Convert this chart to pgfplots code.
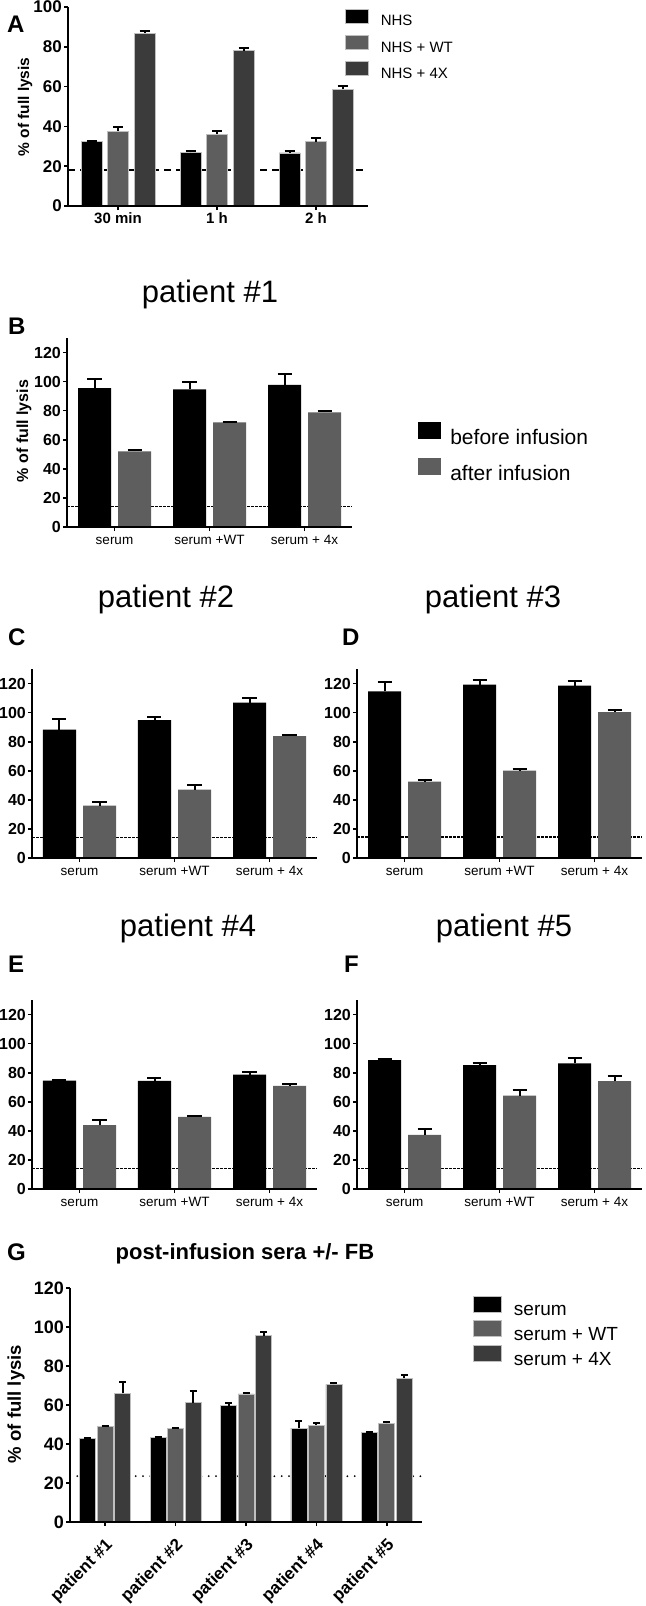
\documentclass[border=0pt]{standalone}
\usepackage{fontspec}
\setmainfont{Liberation Sans}
\usepackage{pgfplots}
\pgfplotsset{compat=1.18}
\definecolor{gA}{HTML}{5E5E5E}
\definecolor{gB}{HTML}{3B3B3B}
\newcommand{\fs}[1]{\fontsize{#1bp}{#1bp}\selectfont}

\pgfplotsset{
  panel/.style={
    scale only axis, clip=false, axis on top,
    ybar, enlargelimits=false,
    axis x line*=bottom, axis y line*=left,
    axis line style={-, line width=2.5bp, black},
    tick style={black, line width=1.6bp},
    tick align=outside,
    major tick length=4bp,
    /pgf/number format/assume math mode=true,
    yticklabel style={font=\bfseries\fs{16}, inner xsep=2bp},
    xticklabel style={font=\fs{13.5}, text height=9.5bp, text depth=3bp},
    xtick={0,1,2},
    ymin=0,
  },
  pat/.style={panel, width=285bp, height=189bp, xmin=-0.5, xmax=2.5,
    ymax=130, ytick={0,20,...,120}, bar width=33bp,
    xticklabels={serum, serum +WT, serum + 4x}},
  eb/.style={error bars/y dir=plus, error bars/y explicit,
     error bars/error bar style={draw=black, line width=2bp},
     error bars/error mark options={rotate=90, draw=black, line width=2bp, mark size=#1}},
  edge/.style={draw=black!25, line width=0.7bp},
  legA/.style={legend image code/.code={\fill[##1] (0bp,-1.6bp) rectangle (23bp,12.4bp); \path (35bp,0bp);}},
  legB/.style={legend image code/.code={\fill[##1] (0bp,-1.3bp) rectangle (23bp,15.7bp); \path (32bp,0bp);}},
  legG/.style={legend image code/.code={\fill[##1] (0bp,-1.5bp) rectangle (28bp,14.5bp); \path (40bp,0bp);}},
}

\begin{document}
\begin{tikzpicture}
\useasboundingbox (0,0) rectangle (646bp,-1606bp);

% ---------------- Panel A ----------------
\begin{axis}[panel, at={(68bp,-206bp)}, anchor=south west,
  width=300bp, height=199bp, xmin=-0.505, xmax=2.525, ymax=100,
  ytick={0,20,...,100}, bar width=21bp,
  xticklabels={30 min, 1 h, 2 h},
  yticklabel style={font=\bfseries\fs{17}},
  xticklabel style={font=\bfseries\fs{15}},
  legend style={draw=none, fill=none, at={(axis description cs:0.923,0.993)},
    anchor=north west, inner sep=0pt, font=\fs{15}, row sep=7.5bp,
    nodes={inner sep=0pt}},
  legend cell align=left]
\addplot[sharp plot, forget plot, black, line width=2.5bp, dash pattern=on 7bp off 5bp]
  coordinates {(-0.505,18) (2.525,18)};
\addplot[fill=black, edge, bar shift=-26.5bp, eb=5bp, legA]
  coordinates {(0,32.3) +- (0,0.5) (1,26.9) +- (0,0.7) (2,26.7) +- (0,1.0)};
\addplot[fill=gA, edge, bar shift=0bp, eb=5bp, legA]
  coordinates {(0,37.6) +- (0,2.0) (1,36.1) +- (0,1.7) (2,32.3) +- (0,1.7)};
\addplot[fill=gB, edge, bar shift=26.5bp, eb=5bp, legA]
  coordinates {(0,86.9) +- (0,0.9) (1,78.0) +- (0,1.3) (2,58.7) +- (0,1.8)};
\legend{NHS, NHS + WT, NHS + 4X}
\end{axis}
\node[anchor=base west, font=\bfseries\fs{24}, inner sep=0pt] at (7bp,-32bp) {A};
\node[rotate=90, font=\bfseries\fs{15.5}] at (25bp,-107bp) {\% of full lysis};

% ---------------- Panel B ----------------
\begin{axis}[pat, at={(67bp,-527bp)}, anchor=south west,
  legend style={draw=none, fill=none, at={(axis description cs:1.232,0.556)},
    anchor=north west, inner sep=0pt, font=\fs{21}, row sep=12bp,
    nodes={inner sep=0pt}},
  legend cell align=left]
\addplot[sharp plot, forget plot, black, line width=1.2bp, dash pattern=on 2.5bp off 1.5bp]
  coordinates {(-0.5,14) (2.5,14)};
\addplot[fill=black, draw=none, bar shift=-20bp, eb=7bp, legB]
  coordinates {(0,95.5) +- (0,6.2) (1,94.6) +- (0,4.8) (2,97.8) +- (0,7.5)};
\addplot[fill=gA, draw=none, bar shift=20bp, eb=7bp, legB]
  coordinates {(0,52.0) +- (0,0.7) (1,71.9) +- (0,0.5) (2,78.8) +- (0,1.3)};
\legend{before infusion, after infusion}
\end{axis}
\node[anchor=base west, font=\bfseries\fs{24}, inner sep=0pt] at (8bp,-334bp) {B};
\node[anchor=base, font=\fs{31}, inner sep=0pt] at (210bp,-302bp) {patient \#1};
\node[rotate=90, font=\bfseries\fs{16}] at (24bp,-431bp) {\% of full lysis};

% ---------------- Panel C ----------------
\begin{axis}[pat, at={(32bp,-858bp)}, anchor=south west]
\addplot[sharp plot, forget plot, black, line width=1.2bp, dash pattern=on 2.5bp off 1.5bp]
  coordinates {(-0.5,14) (2.5,14)};
\addplot[fill=black, draw=none, bar shift=-20bp, eb=7bp]
  coordinates {(0,88.3) +- (0,7.4) (1,94.8) +- (0,2.3) (2,106.9) +- (0,3.2)};
\addplot[fill=gA, draw=none, bar shift=20bp, eb=7bp]
  coordinates {(0,36.0) +- (0,2.3) (1,47.0) +- (0,3.0) (2,83.8) +- (0,0.7)};
\end{axis}
\node[anchor=base west, font=\bfseries\fs{24}, inner sep=0pt] at (8bp,-645bp) {C};
\node[anchor=base, font=\fs{31}, inner sep=0pt] at (166bp,-607bp) {patient \#2};

% ---------------- Panel D ----------------
\begin{axis}[pat, at={(357bp,-858bp)}, anchor=south west]
\addplot[sharp plot, forget plot, black, line width=1.2bp, dash pattern=on 2.5bp off 1.5bp]
  coordinates {(-0.5,14.5) (2.5,14.5)};
\addplot[fill=black, draw=none, bar shift=-20bp, eb=7bp]
  coordinates {(0,114.7) +- (0,6.2) (1,119.3) +- (0,2.8) (2,118.6) +- (0,3.4)};
\addplot[fill=gA, draw=none, bar shift=20bp, eb=7bp]
  coordinates {(0,52.6) +- (0,1.1) (1,60.1) +- (0,1.4) (2,100.3) +- (0,1.4)};
\end{axis}
\node[anchor=base west, font=\bfseries\fs{24}, inner sep=0pt] at (342bp,-645bp) {D};
\node[anchor=base, font=\fs{31}, inner sep=0pt] at (493bp,-607bp) {patient \#3};

% ---------------- Panel E ----------------
\begin{axis}[pat, at={(32bp,-1189bp)}, anchor=south west]
\addplot[sharp plot, forget plot, black, line width=1.2bp, dash pattern=on 2.5bp off 1.5bp]
  coordinates {(-0.5,14) (2.5,14)};
\addplot[fill=black, draw=none, bar shift=-20bp, eb=7bp]
  coordinates {(0,74.5) +- (0,0.5) (1,74.3) +- (0,1.8) (2,78.7) +- (0,1.6)};
\addplot[fill=gA, draw=none, bar shift=20bp, eb=7bp]
  coordinates {(0,43.9) +- (0,3.4) (1,49.7) +- (0,0.4) (2,70.9) +- (0,1.4)};
\end{axis}
\node[anchor=base west, font=\bfseries\fs{24}, inner sep=0pt] at (8bp,-972bp) {E};
\node[anchor=base, font=\fs{31}, inner sep=0pt] at (188bp,-936bp) {patient \#4};

% ---------------- Panel F ----------------
\begin{axis}[pat, at={(357bp,-1189bp)}, anchor=south west]
\addplot[sharp plot, forget plot, black, line width=1.2bp, dash pattern=on 2.5bp off 1.5bp]
  coordinates {(-0.5,14) (2.5,14)};
\addplot[fill=black, draw=none, bar shift=-20bp, eb=7bp]
  coordinates {(0,88.6) +- (0,1.1) (1,85.2) +- (0,1.6) (2,86.5) +- (0,3.5)};
\addplot[fill=gA, draw=none, bar shift=20bp, eb=7bp]
  coordinates {(0,37.2) +- (0,4.4) (1,64.2) +- (0,4.1) (2,74.2) +- (0,3.4)};
\end{axis}
\node[anchor=base west, font=\bfseries\fs{24}, inner sep=0pt] at (344bp,-972bp) {F};
\node[anchor=base, font=\fs{31}, inner sep=0pt] at (504bp,-936bp) {patient \#5};

% ---------------- Panel G ----------------
\begin{axis}[panel, at={(70bp,-1522bp)}, anchor=south west,
  width=352bp, height=234bp, xmin=-0.5, xmax=4.5, ymax=120,
  ytick={0,20,...,120}, xtick={0,...,4}, bar width=16bp,
  xticklabels={patient \#1, patient \#2, patient \#3, patient \#4, patient \#5},
  xticklabel style={xshift=5bp, yshift=-17bp, rotate=45, anchor=east, font=\bfseries\fs{17}, inner sep=0pt, text height=, text depth=},
  yticklabel style={font=\bfseries\fs{18}},
  legend style={draw=none, fill=none, at={(axis description cs:1.145,0.966)},
    anchor=north west, inner sep=0pt, font=\fs{19}, row sep=3bp,
    nodes={inner sep=0pt}},
  legend cell align=left]
\addplot[sharp plot, forget plot, black, line width=2bp, line cap=round, dash pattern=on 0bp off 7.3bp]
  coordinates {(-0.5,23.5) (4.5,23.5)};
\addplot[fill=black, edge, bar shift=-17.5bp, eb=3.5bp, legG]
  coordinates {(0,42.9) +- (0,0.2) (1,43.4) +- (0,0.2) (2,59.7) +- (0,1.2) (3,48.2) +- (0,3.6) (4,45.8) +- (0,0.3)};
\addplot[fill=gA, edge, bar shift=0bp, eb=3.5bp, legG]
  coordinates {(0,48.9) +- (0,0.5) (1,47.8) +- (0,0.5) (2,65.7) +- (0,0.6) (3,49.7) +- (0,0.9) (4,50.6) +- (0,0.8)};
\addplot[fill=gB, edge, bar shift=17.5bp, eb=3.5bp, legG]
  coordinates {(0,66.0) +- (0,6.0) (1,61.2) +- (0,6.0) (2,95.5) +- (0,1.9) (3,70.6) +- (0,0.9) (4,73.7) +- (0,1.7)};
\legend{serum, serum + WT, serum + 4X}
\end{axis}
\node[anchor=base west, font=\bfseries\fs{24}, inner sep=0pt] at (7bp,-1260bp) {G};
\node[anchor=base, font=\bfseries\fs{22}, inner sep=0pt] at (245bp,-1259bp) {post-infusion sera +/- FB};
\node[rotate=90, font=\bfseries\fs{18.5}] at (16bp,-1404bp) {\% of full lysis};

\end{tikzpicture}
\end{document}
